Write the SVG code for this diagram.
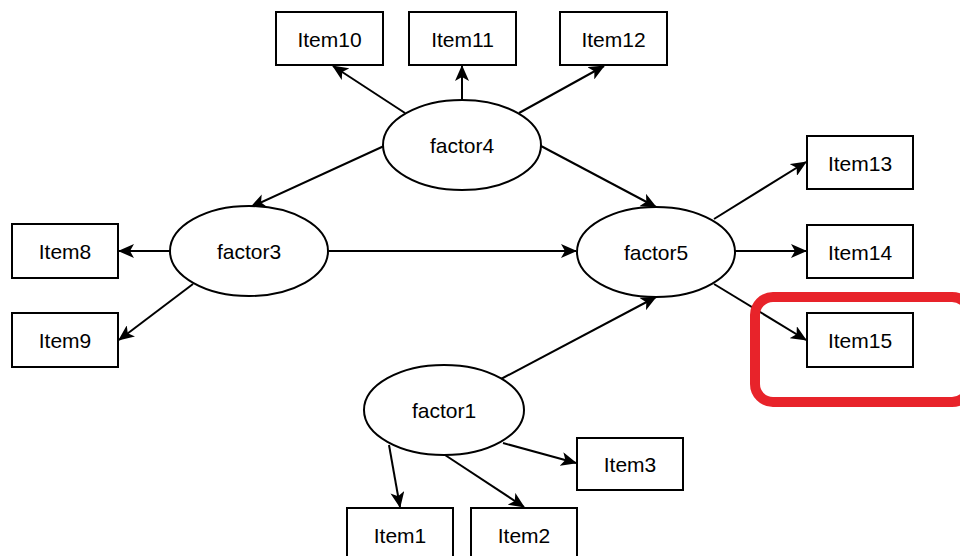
<svg xmlns="http://www.w3.org/2000/svg" width="960" height="556" viewBox="0 0 960 556">
  <defs>
    <style>
      .box { fill: #ffffff; stroke: #000000; stroke-width: 2; }
      .lbl { font-family: "Liberation Sans", Arial, sans-serif; font-size: 21px; fill: #000000; text-anchor: middle; dominant-baseline: central; }
      .edge { fill: none; stroke: #000000; stroke-width: 2; marker-end: url(#arrow); }
      .mark { fill: none; stroke: #e8232a; stroke-width: 10; }
    </style>
    <marker id="arrow" markerUnits="userSpaceOnUse" markerWidth="16" markerHeight="14" viewBox="0 0 16 14" refX="15" refY="7" orient="auto">
      <path d="M0,0 L16,7 L0,14 L4,7 Z" fill="#000000"/>
    </marker>
  </defs>
  <rect width="960" height="556" fill="#ffffff"/>

  <g id="connectors">
    <line class="edge" x1="405" y1="113" x2="333" y2="66"/>
    <line class="edge" x1="462" y1="100" x2="462" y2="66"/>
    <line class="edge" x1="519" y1="113" x2="604" y2="66"/>
    <line class="edge" x1="384" y1="146" x2="251" y2="207"/>
    <line class="edge" x1="541" y1="146" x2="656" y2="207"/>
    <line class="edge" x1="170" y1="251" x2="119" y2="251"/>
    <line class="edge" x1="193" y1="284" x2="119" y2="340"/>
    <line class="edge" x1="329" y1="251" x2="576" y2="251"/>
    <line class="edge" x1="501" y1="379" x2="656" y2="297"/>
    <line class="edge" x1="503" y1="443" x2="576" y2="463"/>
    <line class="edge" x1="445" y1="455" x2="524" y2="507"/>
    <line class="edge" x1="389" y1="445" x2="400" y2="507"/>
    <line class="edge" x1="714" y1="219" x2="806" y2="162"/>
    <line class="edge" x1="735" y1="251" x2="806" y2="251"/>
    <line class="edge" x1="714" y1="284" x2="806" y2="340"/>
  </g>

  <g id="factor4"><ellipse class="box" cx="462" cy="145" rx="79" ry="45"/><text class="lbl" x="462" y="145">factor4</text></g>
  <g id="factor3"><ellipse class="box" cx="249" cy="251" rx="79" ry="45"/><text class="lbl" x="249" y="251">factor3</text></g>
  <g id="factor5"><ellipse class="box" cx="656" cy="252" rx="79" ry="45"/><text class="lbl" x="656" y="252">factor5</text></g>
  <g id="factor1"><ellipse class="box" cx="444" cy="410" rx="80" ry="45"/><text class="lbl" x="444" y="410">factor1</text></g>

  <g id="item10"><rect class="box" x="276" y="12" width="107" height="53"/><text class="lbl" x="329.5" y="39">Item10</text></g>
  <g id="item11"><rect class="box" x="409" y="12" width="107" height="53"/><text class="lbl" x="462.5" y="39">Item11</text></g>
  <g id="item12"><rect class="box" x="560" y="12" width="107" height="53"/><text class="lbl" x="613.5" y="39">Item12</text></g>
  <g id="item13"><rect class="box" x="807" y="136" width="106" height="53"/><text class="lbl" x="860" y="163">Item13</text></g>
  <g id="item14"><rect class="box" x="807" y="225" width="106" height="53"/><text class="lbl" x="860" y="252">Item14</text></g>
  <g id="item15"><rect class="box" x="807" y="313" width="106" height="54"/><text class="lbl" x="860" y="340">Item15</text></g>
  <g id="item8"><rect class="box" x="12" y="224" width="106" height="54"/><text class="lbl" x="65" y="251">Item8</text></g>
  <g id="item9"><rect class="box" x="12" y="313" width="106" height="54"/><text class="lbl" x="65" y="340">Item9</text></g>
  <g id="item3"><rect class="box" x="577" y="438" width="106" height="52"/><text class="lbl" x="630" y="464">Item3</text></g>
  <g id="item1"><rect class="box" x="347" y="508" width="106" height="53"/><text class="lbl" x="400" y="535">Item1</text></g>
  <g id="item2"><rect class="box" x="471" y="508" width="106" height="53"/><text class="lbl" x="524" y="535">Item2</text></g>

  <!-- highlight around Item15 -->
  <rect class="mark" x="755" y="297" width="215" height="105" rx="18"/>
</svg>
